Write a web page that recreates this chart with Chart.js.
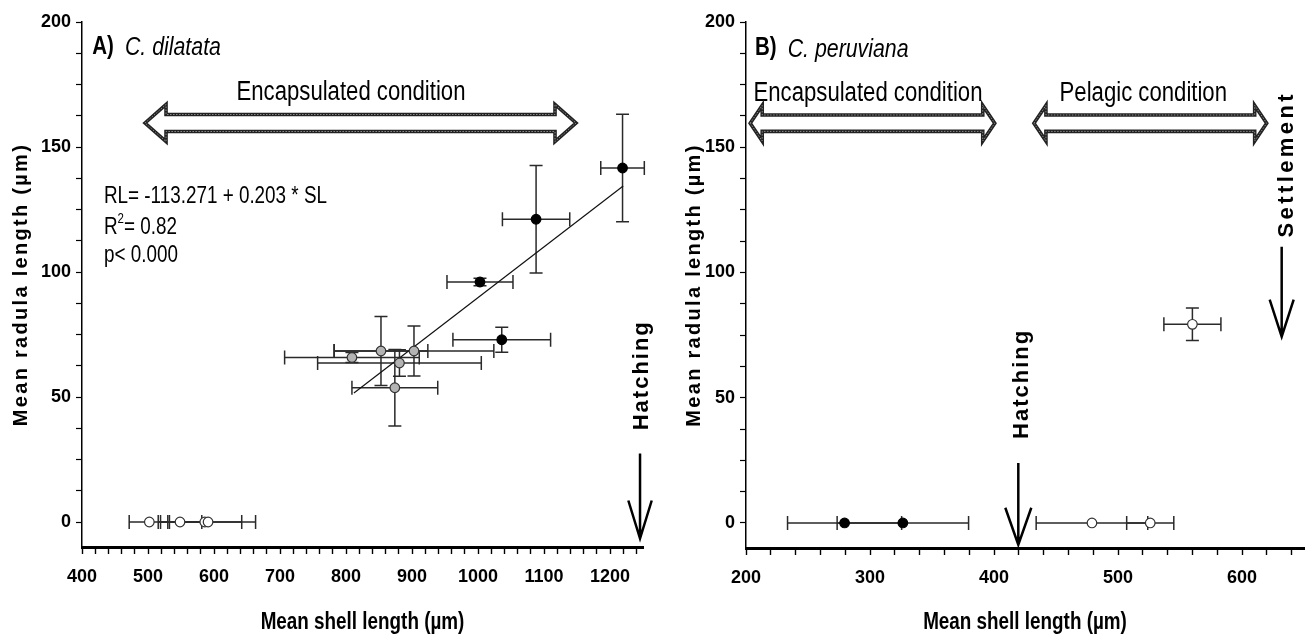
<!DOCTYPE html>
<html><head><meta charset="utf-8">
<script src="https://cdn.jsdelivr.net/npm/chart.js@4/dist/chart.umd.min.js"></script>
<style>
html,body{margin:0;padding:0;background:#fff;}
#wrap{position:relative;width:1310px;height:636px;overflow:hidden;background:#fff;}
#cA{position:absolute;left:0;top:0;}
#cB{position:absolute;left:660px;top:0;}
</style></head><body>
<div id="wrap"><canvas id="cA" width="660" height="636"></canvas><canvas id="cB" width="650" height="636"></canvas></div>
<script>
const SANS = "'Liberation Sans',Arial,sans-serif";
const NARROW_X = 0.82;   // horizontal squeeze emulating a narrow face

// ---------- Panel A : C. dilatata ----------
const aBlackX    = [1219, 1088, 1003, 1036];
const aBlackY    = [141.6, 121.1, 96.0, 72.9];
const aBlackXErr = [33, 51, 50, 74];
const aBlackYErr = [21.5, 21.5, 1.5, 5];

const aGrayX    = [809, 853, 881, 903, 874];
const aGrayY    = [65.8, 68.4, 63.6, 68.4, 53.7];
const aGrayXErr = [102, 71, 124, 121, 65];
const aGrayYErr = [2, 13.8, 5.3, 10, 15.3];

const aWhiteX    = [502, 548.5, 586, 591];
const aWhiteY    = [0, 0, 0, 0];
const aWhiteXErr = [30.5, 33, 56, 72];
const aWhiteYErr = [0, 0, 0, 0];

const aFitX = [812, 1220];
const aFitY = [51.6, 134.4];

// ---------- Panel B : C. peruviana ----------
const bBlackX    = [279.5, 326.5];
const bBlackY    = [0, 0];
const bBlackXErr = [46, 53];
const bBlackYErr = [0, 0];

const bWhiteX    = [479, 526, 560];
const bWhiteY    = [0, 0, 79.3];
const bWhiteXErr = [45, 19, 23];
const bWhiteYErr = [0, 0, 6.5];

// ---------- tick labels ----------
const aXTickLabels = [400, 500, 600, 700, 800, 900, 1000, 1100, 1200];
const bXTickLabels = [200, 300, 400, 500, 600];
const yTickLabels  = [0, 50, 100, 150, 200];

const xTitle = 'Mean shell length (µm)';
const yTitle = 'Mean radula length (µm)';

function range(a, b, step){ const r=[]; for(let v=a; v<=b+1e-9; v+=step) r.push(Math.round(v*1000)/1000); return r; }
function pts(xs, ys){ return xs.map((x,i)=>({x:x, y:ys[i]})); }

function scatterSet(xs, ys, xe, ye, fill, border){
  return { type:'scatter', data:pts(xs,ys), xErr:xe, yErr:ye, order:0,
    pointStyle:'circle', pointRadius:4.8, pointBorderWidth:1.2,
    backgroundColor:fill, borderColor:border, pointBackgroundColor:fill, pointBorderColor:border };
}

function makeScales(xmin, xmax, xMajor, yW, xH){
  const xMinor = range(xmin, xmax, 20).filter(v=>v<xmax);
  const xMajSet = new Set(xMajor);
  const yMinor = range(0, 200, 12.5);
  const ySet = new Set(yTickLabels);
  return {
    x: { type:'linear', min:xmin, max:xmax,
      border:{display:true, color:'#000', width:3},
      grid:{drawOnChartArea:false, drawTicks:true, tickLength:7, tickColor:'#000', tickWidth:1.4},
      ticks:{ color:'#000', autoSkip:false, maxRotation:0, padding:12,
        font:{family:SANS, size:18, weight:'bold'},
        callback:(v)=> xMajSet.has(v) ? String(v) : '' },
      afterBuildTicks:(s)=>{ s.ticks = xMinor.map(v=>({value:v})); },
      afterFit:(s)=>{ s.height = xH; },
      title:{ display:false }
    },
    y: { type:'linear', min:-10, max:200,
      border:{display:true, color:'#000', width:1.5},
      grid:{drawOnChartArea:false, drawTicks:true, tickLength:6, tickColor:'#000', tickWidth:1.2},
      ticks:{ color:'#000', autoSkip:false, padding:5,
        font:{family:SANS, size:18, weight:'bold'},
        callback:(v)=> ySet.has(v) ? String(v) : '' },
      afterBuildTicks:(s)=>{ s.ticks = yMinor.map(v=>({value:v})); },
      afterFit:(s)=>{ s.width = yW; },
      title:{ display:false }
    }
  };
}

// annotation layout (anchors in data units)
const DECOR = {
  cA: {
    yTitleX: 21, xTitleY: 623,
    panel: {bold:'A)', ital:'C. dilatata', x:415.6, y:190},
    texts: [{t:'Encapsulated condition', x:807.6, y:171.9, size:27}],
    regress: {x:433.3, y:[130, 117.9, 106.7], l1:'RL= -113.271 + 0.203 * SL', l2a:'R', l2b:'2', l2c:'= 0.82', l3:'p< 0.000'},
    dbl: [{x1:495.5, x2:1148.5, y:159.6, sh:8.5, hh:18.5, hl:21}],
    down: [{x:1245.5, y1:27.4, y2:-6.6, hw:11.7, hh:38}],
    vtexts: [{t:'Hatching', x:1248, y:58.7, size:22, sp:2}]
  },
  cB: {
    yTitleX: 34, xTitleY: 623,
    panel: {bold:'B)', ital:'C. peruviana', x:207.3, y:189.5},
    texts: [{t:'Encapsulated condition', x:298.4, y:171.6, size:27},
            {t:'Pelagic condition', x:520.4, y:171.6, size:27}],
    dbl: [{x1:203.4, x2:400.6, y:159.6, sh:8.2, hh:17.8, hl:12},
          {x1:432.2, x2:619.9, y:159.6, sh:8.2, hh:17.8, hl:12}],
    down: [{x:419.6, y1:23.9, y2:-8.7, hw:13, hh:37},
           {x:632, y1:110.3, y2:74.4, hw:12, hh:37}],
    vtexts: [{t:'Hatching', x:422.8, y:55.5, size:22, sp:2},
             {t:'Settlement', x:636, y:143.2, size:22, sp:3.4}]
  }
};

// narrow-looking text: Liberation Sans squeezed horizontally
function narrowText(ctx, s, x, y, font, align){
  ctx.save();
  ctx.font = font;
  ctx.textAlign = align || 'left';
  ctx.textBaseline = 'middle';
  ctx.translate(x, y);
  ctx.scale(NARROW_X, 1);
  ctx.fillText(s, 0, 0);
  const w = ctx.measureText(s).width * NARROW_X;
  ctx.restore();
  return w;
}

const decor = {
  id:'decor',
  beforeDatasetsDraw(chart){
    const ctx = chart.ctx, xs = chart.scales.x, ys = chart.scales.y;
    ctx.save();
    ctx.strokeStyle = '#2a2a2a'; ctx.lineWidth = 1.5;
    chart.data.datasets.forEach(ds=>{
      if(!ds.xErr) return;
      ds.data.forEach((p,i)=>{
        const px = xs.getPixelForValue(p.x), py = ys.getPixelForValue(p.y);
        const ex = ds.xErr[i] || 0, ey = (ds.yErr && ds.yErr[i]) || 0;
        ctx.beginPath();
        if(ex > 0){
          const x1 = xs.getPixelForValue(p.x - ex), x2 = xs.getPixelForValue(p.x + ex);
          ctx.moveTo(x1, py); ctx.lineTo(x2, py);
          ctx.moveTo(x1, py-7); ctx.lineTo(x1, py+7);
          ctx.moveTo(x2, py-7); ctx.lineTo(x2, py+7);
        }
        if(ey > 0){
          const y1 = ys.getPixelForValue(p.y - ey), y2 = ys.getPixelForValue(p.y + ey);
          ctx.moveTo(px, y1); ctx.lineTo(px, y2);
          ctx.moveTo(px-6.5, y1); ctx.lineTo(px+6.5, y1);
          ctx.moveTo(px-6.5, y2); ctx.lineTo(px+6.5, y2);
        }
        ctx.stroke();
      });
    });
    ctx.restore();
  },
  afterDraw(chart){
    const cfg = DECOR[chart.canvas.id]; if(!cfg) return;
    const ctx = chart.ctx, xs = chart.scales.x, ys = chart.scales.y, ca = chart.chartArea;
    const X = v=>xs.getPixelForValue(v), Y = v=>ys.getPixelForValue(v);
    ctx.save();
    ctx.fillStyle = '#000'; ctx.strokeStyle = '#000';
    // y title
    ctx.save();
    ctx.font = "bold 20px " + SANS;
    ctx.letterSpacing = '2.3px';
    ctx.textAlign = 'center';
    ctx.textBaseline = 'middle';
    ctx.translate(cfg.yTitleX, (ca.top + ca.bottom)/2);
    ctx.rotate(-Math.PI/2);
    ctx.fillText(yTitle, 0, 0);
    ctx.restore();
    // x title
    narrowText(ctx, xTitle, (ca.left + ca.right)/2, cfg.xTitleY, "bold 23px " + SANS, 'center');
    // panel label
    const pl = cfg.panel;
    const px0 = X(pl.x), py0 = Y(pl.y);
    const wb = narrowText(ctx, pl.bold, px0, py0, "bold 25px " + SANS, 'left');
    narrowText(ctx, pl.ital, px0 + wb + 11, py0 + 1, "italic 26px " + SANS, 'left');
    // texts
    cfg.texts.forEach(t=>{
      narrowText(ctx, t.t, X(t.x), Y(t.y), t.size + "px " + SANS, 'center');
    });
    // regression
    if(cfg.regress){
      const r = cfg.regress;
      const rx = X(r.x);
      narrowText(ctx, r.l1, rx, Y(r.y[0]), "23px " + SANS, 'left');
      const yy = Y(r.y[1]);
      const wR = narrowText(ctx, r.l2a, rx, yy, "23px " + SANS, 'left');
      const w2 = narrowText(ctx, r.l2b, rx + wR, yy - 8, "14px " + SANS, 'left');
      narrowText(ctx, r.l2c, rx + wR + w2, yy, "23px " + SANS, 'left');
      narrowText(ctx, r.l3, rx, Y(r.y[2]), "23px " + SANS, 'left');
    }
    // double arrows
    cfg.dbl.forEach(a=>{
      const x1 = X(a.x1), x2 = X(a.x2), yc = Y(a.y);
      ctx.beginPath();
      ctx.moveTo(x1, yc);
      ctx.lineTo(x1 + a.hl, yc - a.hh);
      ctx.lineTo(x1 + a.hl, yc - a.sh);
      ctx.lineTo(x2 - a.hl, yc - a.sh);
      ctx.lineTo(x2 - a.hl, yc - a.hh);
      ctx.lineTo(x2, yc);
      ctx.lineTo(x2 - a.hl, yc + a.hh);
      ctx.lineTo(x2 - a.hl, yc + a.sh);
      ctx.lineTo(x1 + a.hl, yc + a.sh);
      ctx.lineTo(x1 + a.hl, yc + a.hh);
      ctx.closePath();
      ctx.fillStyle = '#fff'; ctx.fill();
      ctx.lineJoin = 'miter';
      ctx.strokeStyle = '#222'; ctx.lineWidth = 3.6; ctx.stroke();
      ctx.setLineDash([1.5, 1.5]);
      ctx.strokeStyle = '#8a8a8a'; ctx.lineWidth = 1; ctx.stroke();
      ctx.setLineDash([]);
    });
    ctx.fillStyle = '#000'; ctx.strokeStyle = '#000';
    // down arrows
    cfg.down.forEach(a=>{
      const x = X(a.x), y1 = Y(a.y1), y2 = Y(a.y2);
      ctx.lineWidth = 2.5; ctx.lineJoin = 'miter';
      ctx.beginPath();
      ctx.moveTo(x, y1); ctx.lineTo(x, y2);
      ctx.moveTo(x - a.hw, y2 - a.hh); ctx.lineTo(x, y2); ctx.lineTo(x + a.hw, y2 - a.hh);
      ctx.stroke();
    });
    // vertical texts
    cfg.vtexts.forEach(t=>{
      ctx.save();
      ctx.font = "bold " + t.size + "px " + SANS;
      ctx.letterSpacing = t.sp + 'px';
      ctx.textAlign = 'center';
      ctx.textBaseline = 'middle';
      ctx.translate(X(t.x), Y(t.y));
      ctx.rotate(-Math.PI/2);
      ctx.fillText(t.t, 0, 0);
      ctx.restore();
    });
    ctx.restore();
  }
};

const common = {
  responsive:false, animation:false, events:[],
  plugins:{ legend:{display:false}, tooltip:{enabled:false} }
};

new Chart(document.getElementById('cA'), {
  type:'scatter',
  data:{ datasets:[
    { type:'line', data:pts(aFitX, aFitY), borderColor:'#111', borderWidth:1.2, pointRadius:0, fill:false, order:5 },
    scatterSet(aWhiteX, aWhiteY, aWhiteXErr, aWhiteYErr, '#ffffff', '#333'),
    scatterSet(aGrayX, aGrayY, aGrayXErr, aGrayYErr, '#b3b3b3', '#333'),
    scatterSet(aBlackX, aBlackY, aBlackXErr, aBlackYErr, '#000000', '#000')
  ]},
  options: Object.assign({}, common, {
    layout:{ padding:{left:0, top:22, right:17, bottom:0} },
    scales: makeScales(400, 1250, aXTickLabels, 82, 89)
  }),
  plugins:[decor]
});

new Chart(document.getElementById('cB'), {
  type:'scatter',
  data:{ datasets:[
    scatterSet(bWhiteX, bWhiteY, bWhiteXErr, bWhiteYErr, '#ffffff', '#333'),
    scatterSet(bBlackX, bBlackY, bBlackXErr, bBlackYErr, '#000000', '#000')
  ]},
  options: Object.assign({}, common, {
    layout:{ padding:{left:0, top:22, right:1, bottom:0} },
    scales: makeScales(200, 650, bXTickLabels, 86, 88)
  }),
  plugins:[decor]
});
</script>
</body></html>
